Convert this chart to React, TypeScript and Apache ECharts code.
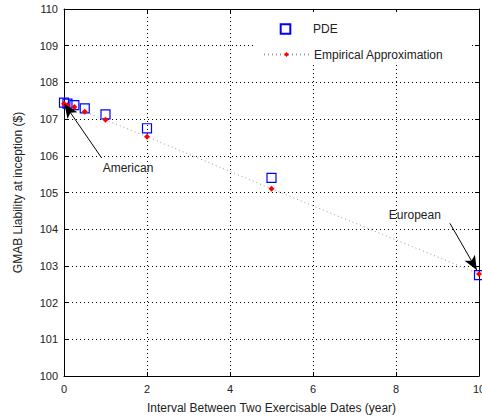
import React, { useEffect, useRef } from "react";
import * as echarts from "echarts";

const xValues = [0, 0.0833, 0.25, 0.5, 1, 2, 5, 10];
const pdeValues = [107.45, 107.42, 107.38, 107.29, 107.13, 106.75, 105.4, 102.75];
const empiricalValues = [107.42, 107.38, 107.33, 107.2, 106.98, 106.52, 105.1, 102.78];

const xTitle = "Interval Between Two Exercisable Dates (year)";
const yTitle = "GMAB Liability at inception ($)";

// annotation arrows in data coordinates: [start, end]
const americanArrow = [[0.908, 105.94], [0.012, 107.41]];
const europeanArrow = [[9.3, 104.16], [9.945, 102.89]];
const americanLabel = [0.92, 105.67];
const europeanLabel = [7.815, 104.39];

const FONT = "'Liberation Sans', Arial, sans-serif";
const TXT = "#222";

export default function App() {
  const ref = useRef<HTMLDivElement>(null);
  useEffect(() => {
    if (!ref.current) return;
    const chart = echarts.init(ref.current, null, { renderer: "svg" });
    const gridLine = { show: true, lineStyle: { color: "#000", type: [1, 3], width: 1 } };
    const axisLine = { show: true, onZero: false, lineStyle: { color: "#000", width: 1 } };
    const tick = { show: true, inside: true, length: 4, lineStyle: { color: "#000" } };
    const label = { fontSize: 11, color: TXT, fontFamily: FONT };
    chart.setOption({
      animation: false,
      backgroundColor: "#fff",
      textStyle: { fontFamily: FONT },
      grid: {
        left: 64,
        top: 9,
        right: 3,
        bottom: 44,
        containLabel: false,
        outerBoundsMode: "none",
      },
      graphic: [
        {
          type: "rect",
          z: 1,
          shape: { x: 253, y: 12, width: 219, height: 51 },
          style: { fill: "#fff" },
          silent: true,
        },
      ],
      xAxis: [
        {
          type: "value",
          min: 0,
          max: 10,
          interval: 2,
          position: "bottom",
          axisLine,
          axisTick: tick,
          axisLabel: { ...label, margin: 7 },
          splitLine: gridLine,
          name: xTitle,
          nameLocation: "middle",
          nameGap: 26,
          nameTextStyle: { ...label, fontSize: 12 },
        },
        {
          type: "value",
          min: 0,
          max: 10,
          interval: 2,
          position: "top",
          axisLine,
          axisTick: tick,
          axisLabel: { show: false },
          splitLine: { show: false },
        },
      ],
      yAxis: [
        {
          type: "value",
          min: 100,
          max: 110,
          interval: 1,
          position: "left",
          axisLine,
          axisTick: tick,
          axisLabel: { ...label, margin: 6 },
          splitLine: gridLine,
          name: yTitle,
          nameLocation: "middle",
          nameGap: 40,
          nameTextStyle: { ...label, fontSize: 12 },
        },
        {
          type: "value",
          min: 100,
          max: 110,
          interval: 1,
          position: "right",
          axisLine,
          axisTick: tick,
          axisLabel: { show: false },
          splitLine: { show: false },
        },
      ],
      legend: [
        {
          data: ["PDE"],
          left: 263,
          top: 23,
          padding: 0,
          itemWidth: 45,
          itemHeight: 12,
          textStyle: { ...label, fontSize: 12 },
          z: 4,
        },
        {
          data: ["Empirical Approximation"],
          left: 263,
          top: 48.5,
          padding: 0,
          itemWidth: 45,
          itemHeight: 6,
          textStyle: { ...label, fontSize: 12 },
          z: 4,
        },
      ],
      series: [
        {
          name: "PDE",
          type: "line",
          data: xValues.map((x, i) => [x, pdeValues[i]]),
          symbol: "rect",
          symbolSize: 9,
          showSymbol: true,
          itemStyle: { color: "rgba(0,0,0,0)", borderColor: "#0000ff", borderWidth: 1.2 },
          lineStyle: { width: 0, opacity: 0 },
          z: 2,
        },
        {
          name: "Empirical Approximation",
          type: "line",
          data: xValues.map((x, i) => [x, empiricalValues[i]]),
          symbol: "diamond",
          symbolSize: 6,
          itemStyle: { color: "#ff0000" },
          lineStyle: { color: "#999", width: 1, type: [1, 3] },
          z: 3,
          markLine: {
            silent: true,
            symbol: ["none", "arrow"],
            symbolSize: [9, 14],
            lineStyle: { color: "#000", width: 1, type: "solid" },
            label: { show: false },
            data: [
              [{ coord: americanArrow[0] }, { coord: americanArrow[1] }],
              [{ coord: europeanArrow[0] }, { coord: europeanArrow[1] }],
            ],
          },
          markPoint: {
            silent: true,
            symbol: "circle",
            symbolSize: 1,
            itemStyle: { color: "rgba(0,0,0,0)" },
            label: {
              show: true,
              position: "right",
              distance: 0,
              fontSize: 12,
              color: TXT,
              fontFamily: FONT,
              formatter: (p: any) => p.name,
            },
            data: [
              { name: "American", coord: americanLabel },
              { name: "European", coord: europeanLabel },
            ],
          },
        },
      ],
    });
    return () => chart.dispose();
  }, []);
  return (
    <div
      ref={ref}
      style={{ position: "fixed", left: 0, top: 0, width: 482, height: 420 }}
    />
  );
}
